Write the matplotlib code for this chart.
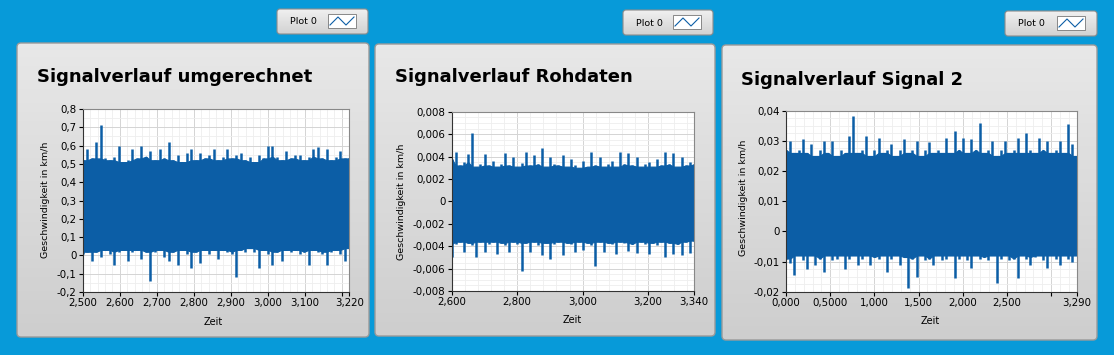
import matplotlib.pyplot as plt
import numpy as np
from matplotlib.patches import FancyBboxPatch
from matplotlib.colors import LinearSegmentedColormap
from matplotlib.ticker import FixedLocator, AutoMinorLocator

W, H = 1114, 355

# -------------------------------------------------------------------------------------
# Data (envelope of the noisy signals)
# -------------------------------------------------------------------------------------
titles = ['Signalverlauf umgerechnet', 'Signalverlauf Rohdaten', 'Signalverlauf Signal 2']
ylabel = 'Geschwindigkeit in km/h'
xlabel = 'Zeit'
legend_text = 'Plot 0'

# panel 1
t1_range = (2.5, 3.22)
up1 = [0.52, 0.58, 0.53, 0.62, 0.71, 0.53, 0.52, 0.54, 0.60, 0.51,
       0.52, 0.58, 0.53, 0.60, 0.54, 0.57, 0.52, 0.58, 0.53, 0.62,
       0.52, 0.55, 0.51, 0.56, 0.58, 0.52, 0.56, 0.53, 0.55, 0.58,
       0.52, 0.54, 0.58, 0.53, 0.55, 0.56, 0.52, 0.54, 0.51, 0.55,
       0.53, 0.60, 0.60, 0.54, 0.52, 0.57, 0.53, 0.55, 0.55, 0.52,
       0.54, 0.58, 0.59, 0.53, 0.58, 0.52, 0.54, 0.57, 0.53, 0.53]
lo1 = [0.01, 0.02, -0.03, 0.02, -0.01, 0.03, 0.01, -0.05, 0.02, 0.03,
       -0.03, 0.02, 0.03, -0.02, 0.02, -0.14, 0.02, 0.03, -0.01, -0.03,
       0.02, -0.05, 0.03, 0.01, -0.07, 0.02, -0.04, 0.03, 0.01, 0.03,
       -0.02, 0.03, 0.02, 0.01, -0.12, 0.03, 0.02, 0.04, 0.02, -0.07,
       0.03, 0.01, -0.05, 0.02, -0.03, 0.03, 0.02, 0.03, 0.01, 0.02,
       -0.05, 0.03, 0.02, 0.01, -0.05, 0.02, 0.03, 0.01, -0.03, 0.04]
xt1 = [2.5, 2.6, 2.7, 2.8, 2.9, 3.0, 3.1, 3.2, 3.22]
xl1 = ['2,500', '2,600', '2,700', '2,800', '2,900', '3,000', '3,100', '', '3,220']
yt1 = [-0.2, -0.1, 0, 0.1, 0.2, 0.3, 0.4, 0.5, 0.6, 0.7, 0.8]
yl1 = ['-0,2', '-0,1', '0', '0,1', '0,2', '0,3', '0,4', '0,5', '0,6', '0,7', '0,8']

# panel 2
t2_range = (2.6, 3.34)
up2 = [0.0038, 0.0044, 0.0032, 0.0035, 0.0042, 0.0061, 0.0031, 0.0033, 0.0042, 0.0032,
       0.0036, 0.0031, 0.0033, 0.0043, 0.0032, 0.0040, 0.0031, 0.0034, 0.0044, 0.0032,
       0.0041, 0.0033, 0.0048, 0.0031, 0.0040, 0.0033, 0.0032, 0.0041, 0.0031, 0.0038,
       0.0032, 0.0030, 0.0036, 0.0031, 0.0044, 0.0032, 0.0040, 0.0031, 0.0033, 0.0036,
       0.0031, 0.0044, 0.0033, 0.0043, 0.0032, 0.0040, 0.0031, 0.0033, 0.0035, 0.0031,
       0.0038, 0.0032, 0.0044, 0.0033, 0.0043, 0.0031, 0.0040, 0.0032, 0.0035, 0.0033]
lo2 = [-0.0050, -0.0038, -0.0036, -0.0045, -0.0037, -0.0039, -0.0050, -0.0036, -0.0045, -0.0038,
       -0.0036, -0.0047, -0.0037, -0.0039, -0.0045, -0.0036, -0.0038, -0.0062, -0.0037, -0.0045,
       -0.0036, -0.0039, -0.0048, -0.0037, -0.0051, -0.0038, -0.0036, -0.0048, -0.0037, -0.0038,
       -0.0045, -0.0036, -0.0043, -0.0037, -0.0039, -0.0058, -0.0036, -0.0045, -0.0037, -0.0038,
       -0.0047, -0.0036, -0.0037, -0.0044, -0.0038, -0.0046, -0.0036, -0.0038, -0.0047, -0.0037,
       -0.0039, -0.0036, -0.0050, -0.0037, -0.0047, -0.0038, -0.0048, -0.0036, -0.0046, -0.0035]
xt2 = [2.6, 2.8, 3.0, 3.2, 3.34]
xl2 = ['2,600', '2,800', '3,000', '3,200', '3,340']
yt2 = [-0.008, -0.006, -0.004, -0.002, 0, 0.002, 0.004, 0.006, 0.008]
yl2 = ['-0,008', '-0,006', '-0,004', '-0,002', '0', '0,002', '0,004', '0,006', '0,008']

# panel 3
t3_range = (0.0, 3.29)
up3 = [0.027, 0.030, 0.026, 0.027, 0.0305, 0.026, 0.029, 0.025, 0.027, 0.030,
       0.026, 0.030, 0.025, 0.027, 0.026, 0.0315, 0.0383, 0.026, 0.027, 0.0315,
       0.025, 0.027, 0.031, 0.026, 0.027, 0.029, 0.025, 0.027, 0.0305, 0.026,
       0.027, 0.030, 0.025, 0.027, 0.0297, 0.026, 0.027, 0.026, 0.031, 0.026,
       0.0333, 0.027, 0.031, 0.026, 0.0305, 0.027, 0.036, 0.026, 0.027, 0.030,
       0.025, 0.027, 0.030, 0.026, 0.027, 0.031, 0.026, 0.0325, 0.027, 0.026,
       0.031, 0.027, 0.030, 0.026, 0.027, 0.030, 0.026, 0.0355, 0.029, 0.025]
lo3 = [-0.009, -0.0105, -0.0145, -0.008, -0.0095, -0.0125, -0.008, -0.011, -0.009, -0.0135,
       -0.008, -0.0095, -0.009, -0.008, -0.0125, -0.009, -0.008, -0.011, -0.009, -0.008,
       -0.011, -0.0085, -0.009, -0.008, -0.0135, -0.009, -0.008, -0.011, -0.0085, -0.0187,
       -0.009, -0.015, -0.008, -0.0095, -0.009, -0.011, -0.008, -0.0095, -0.009, -0.008,
       -0.0155, -0.009, -0.008, -0.0095, -0.012, -0.008, -0.009, -0.0085, -0.0095, -0.008,
       -0.017, -0.009, -0.008, -0.0095, -0.009, -0.0155, -0.008, -0.009, -0.011, -0.0085,
       -0.008, -0.0095, -0.012, -0.008, -0.009, -0.011, -0.008, -0.009, -0.010, -0.008]
xt3 = [0.0, 0.5, 1.0, 1.5, 2.0, 2.5, 3.0, 3.29]
xl3 = ['0,000', '0,5000', '1,000', '1,500', '2,000', '2,500', '', '3,290']
yt3 = [-0.02, -0.01, 0, 0.01, 0.02, 0.03, 0.04]
yl3 = ['-0,02', '-0,01', '0', '0,01', '0,02', '0,03', '0,04']

# -------------------------------------------------------------------------------------
# Layout (pixels)
# -------------------------------------------------------------------------------------
BG = '#079ad9'
SIG = '#0c5ea6'

panels = [(17, 43, 369, 337), (375, 44, 715, 336), (722, 45, 1097, 340)]
plots = [(82.7, 109, 349.3, 292), (451.7, 111.7, 694, 291), (786, 110.7, 1076.7, 291.7)]
legends = [(277, 9, 368, 34), (623, 10, 713, 35), (1005, 11, 1097, 36)]
title_pos = [(37, 77), (395, 77), (741, 80)]
ylab_pos = [(45, 200), (402, 202), (743, 198)]
xlab_pos = [(213, 322), (572, 320), (930, 321)]


def frac(x0, y0, x1, y1):
    return [x0 / W, 1 - y1 / H, (x1 - x0) / W, (y1 - y0) / H]


fig = plt.figure(figsize=(W / 100, H / 100), dpi=100)
fig.patch.set_facecolor(BG)

bg = fig.add_axes([0, 0, 1, 1], zorder=-5)
bg.set_xlim(0, W)
bg.set_ylim(H, 0)
bg.axis('off')

grad = np.linspace(0, 1, 64).reshape(-1, 1)
panel_cmap = LinearSegmentedColormap.from_list('g', ['#e8e8e8', '#cecece'])
legend_cmap = LinearSegmentedColormap.from_list('g2', ['#f0f0f0', '#d2d2d2'])

for (x0, y0, x1, y1) in panels:
    box = FancyBboxPatch((x0, y0), x1 - x0, y1 - y0, boxstyle='round,pad=0,rounding_size=4',
                         facecolor='none', edgecolor='#9a9a9a', linewidth=1.0, zorder=3)
    bg.add_patch(box)
    im = bg.imshow(grad, extent=(x0, x1, y1, y0), cmap=panel_cmap, aspect='auto', zorder=2)
    im.set_clip_path(box)

for (x0, y0, x1, y1) in legends:
    box = FancyBboxPatch((x0, y0), x1 - x0, y1 - y0, boxstyle='round,pad=0,rounding_size=3',
                         facecolor='none', edgecolor='#8c8c8c', linewidth=0.8, zorder=3)
    bg.add_patch(box)
    im = bg.imshow(grad, extent=(x0, x1, y1, y0), cmap=legend_cmap, aspect='auto', zorder=2)
    im.set_clip_path(box)
    bg.text(x0 + 13, (y0 + y1) / 2 + 0.5, legend_text, fontsize=6.8, va='center', ha='left', zorder=4)
    ix0, iy0 = x1 - 40, y0 + 5
    bg.add_patch(plt.Rectangle((ix0, iy0), 28, 14, facecolor='white', edgecolor='#777777',
                               linewidth=0.6, zorder=4))
    bg.plot([ix0 + 2, ix0 + 10, ix0 + 18, ix0 + 26], [iy0 + 11, iy0 + 3, iy0 + 11, iy0 + 3],
            color=SIG, linewidth=0.8, zorder=5)

for k in range(3):
    bg.text(title_pos[k][0], title_pos[k][1], titles[k], fontsize=13, fontweight='bold',
            va='center', ha='left', zorder=4)
    bg.text(ylab_pos[k][0], ylab_pos[k][1], ylabel, fontsize=6.8, rotation=90,
            va='center', ha='center', zorder=4)
    bg.text(xlab_pos[k][0], xlab_pos[k][1], xlabel, fontsize=7, va='center', ha='center', zorder=4)

# -------------------------------------------------------------------------------------
# Signal plots: solid band + thin spikes up to the read peaks
# -------------------------------------------------------------------------------------
series = [(t1_range, up1, lo1, xt1, xl1, yt1, yl1, 2),
          (t2_range, up2, lo2, xt2, xl2, yt2, yl2, 4),
          (t3_range, up3, lo3, xt3, xl3, yt3, yl3, 4)]

for k, (trange, up, lo, xt, xl, yt, yl, ymin) in enumerate(series):
    ax = fig.add_axes(frac(*plots[k]))
    ax.set_facecolor('white')
    up = np.array(up)
    lo = np.array(lo)
    t = np.linspace(trange[0], trange[1], len(up))
    pu = np.pad(up, 1, mode='edge')
    pl = np.pad(lo, 1, mode='edge')
    band_up = np.minimum.reduce([pu[:-2], pu[1:-1], pu[2:]])
    band_lo = np.maximum.reduce([pl[:-2], pl[1:-1], pl[2:]])
    ax.fill_between(t, band_lo, band_up, color=SIG, linewidth=0.8, edgecolor=SIG)
    ax.vlines(t, lo, up, color=SIG, linewidth=1.8)
    ax.set_xlim(trange)
    ax.set_ylim(yt[0], yt[-1])
    ax.xaxis.set_major_locator(FixedLocator(xt))
    ax.set_xticklabels(xl)
    ax.yaxis.set_major_locator(FixedLocator(yt))
    ax.set_yticklabels(yl)
    ax.xaxis.set_minor_locator(AutoMinorLocator(5))
    ax.yaxis.set_minor_locator(AutoMinorLocator(ymin))
    ax.grid(which='major', color='#d4d4d4', linewidth=0.7)
    ax.grid(which='minor', color='#eeeeee', linewidth=0.6)
    ax.set_axisbelow(True)
    ax.tick_params(which='major', direction='out', length=3, width=0.8, pad=1.5,
                   labelsize=7.4, colors='black')
    ax.tick_params(which='minor', length=0)
    for s in ['top', 'right']:
        ax.spines[s].set_color('#888888')
        ax.spines[s].set_linewidth(0.8)
    for s in ['left', 'bottom']:
        ax.spines[s].set_color('#333333')
        ax.spines[s].set_linewidth(0.8)

fig.savefig('out.png', dpi=100, facecolor=BG)
